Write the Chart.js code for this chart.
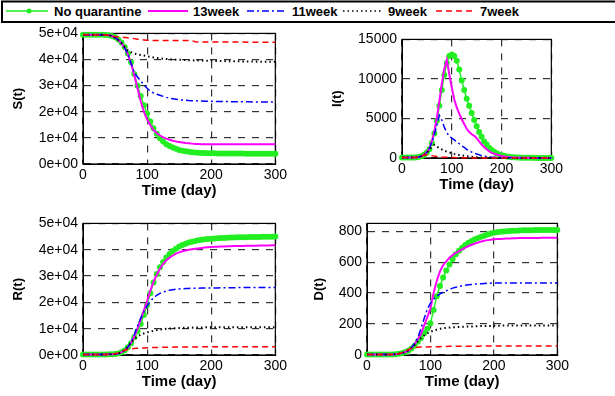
<!DOCTYPE html>
<html lang="en">
<head>
<meta charset="UTF-8">
<title>Quarantine scenarios</title>
<script src="https://cdn.jsdelivr.net/npm/chart.js@4.4.0/dist/chart.umd.min.js"></script>
<style>
  body { margin: 0; width: 615px; height: 396px; background: #fff; position: relative; overflow: hidden; font-family: Arial, "Liberation Sans", sans-serif; }
  canvas { position: absolute; }
  #legend { position: absolute; left: 0; top: 0; }
</style>
</head>
<body>
<svg id="legend" width="615" height="26" xmlns="http://www.w3.org/2000/svg" font-family="Arial, 'Liberation Sans', sans-serif" font-size="13" font-weight="bold">
  <rect x="2" y="1.5" width="640" height="20.5" fill="#fff" stroke="#000" stroke-width="2"/>
  <line x1="6" y1="11" x2="48" y2="11" stroke="#22ee22" stroke-width="1.5"/>
  <circle cx="29" cy="11" r="2.5" fill="#22ee22"/>
  <text x="54" y="16">No quarantine</text>
  <line x1="148" y1="11" x2="188" y2="11" stroke="#ff00ff" stroke-width="2"/>
  <text x="193" y="16">13week</text>
  <line x1="247" y1="11" x2="286" y2="11" stroke="#0000ff" stroke-width="1.5" stroke-dasharray="7 3 2 3"/>
  <text x="292" y="16">11week</text>
  <line x1="343" y1="11" x2="381" y2="11" stroke="#000" stroke-width="1.5" stroke-dasharray="1.5 3"/>
  <text x="388" y="16">9week</text>
  <line x1="436" y1="11" x2="473" y2="11" stroke="#ff0000" stroke-width="1.5" stroke-dasharray="6 4"/>
  <text x="480" y="16">7week</text>
</svg>
<canvas id="cS"></canvas>
<canvas id="cI"></canvas>
<canvas id="cR"></canvas>
<canvas id="cD"></canvas>

<script>
// time axis (days)
const days = [
  0,5,10,15,20,25,30,35,40,45,
  50,55,60,65,70,75,80,85,90,95,
  100,105,110,115,120,125,130,135,140,145,
  150,155,160,165,170,175,180,185,190,195,
  200,205,210,215,220,225,230,235,240,245,
  250,255,260,265,270,275,280,285,290,295,
  300];

// S(t)
const sNoQ = [
  49500,49500,49500,49500,49500,49500,49450,49400,49300,49000,
  48500,47700,46500,44800,42300,39000,34500,30000,26000,22500,
  19300,16300,13700,11600,9900,8600,7600,6900,6300,5800,
  5400,5100,4850,4650,4500,4400,4300,4250,4200,4150,
  4100,4100,4050,4050,4050,4000,4000,4000,4000,4000,
  4000,3950,3950,3950,3950,3950,3900,3900,3900,3900,
  3900];
const s13 = [
  49500,49500,49500,49500,49500,49500,49450,49400,49300,49000,
  48400,47500,46300,44500,42000,38500,34000,29000,24000,20000,
  17000,14800,13000,11900,10900,10200,9700,9300,8900,8600,
  8400,8200,8000,7900,7800,7700,7650,7600,7600,7550,
  7550,7550,7550,7550,7550,7550,7550,7550,7550,7550,
  7550,7550,7550,7550,7550,7550,7550,7550,7550,7550,
  7550];
const s11 = [
  49500,49500,49500,49500,49500,49500,49450,49400,49300,49000,
  48400,47500,46300,44500,42000,38500,35000,33300,31800,30300,
  29000,27900,27200,26700,26300,25900,25500,25200,25000,24800,
  24600,24500,24400,24300,24250,24200,24150,24100,24050,24000,
  24000,23950,23950,23900,23900,23900,23850,23850,23850,23800,
  23800,23800,23800,23750,23750,23750,23750,23700,23700,23700,
  23700];
const s9 = [
  49500,49500,49500,49500,49500,49500,49450,49400,49300,49000,
  48400,47500,46300,44800,43500,42800,42300,42000,41700,41500,
  41300,41000,40800,40600,40450,40300,40200,40100,40000,39950,
  39900,39850,39800,39750,39700,39650,39600,39600,39550,39500,
  39500,39450,39450,39400,39400,39350,39350,39300,39300,39300,
  39250,39250,39200,39200,39200,39150,39150,39150,39100,39100,
  39100];
const s7 = [
  49500,49500,49500,49500,49500,49500,49450,49400,49300,49000,
  48800,48700,48600,48450,48300,48150,48000,47800,47600,47500,
  47400,47350,47300,47300,47300,47300,47300,47300,47300,47300,
  47300,47300,47300,47300,47200,46800,46700,46700,46700,46700,
  46700,46700,46700,46700,46700,46700,46700,46700,46700,46700,
  46700,46650,46650,46650,46650,46650,46650,46650,46650,46650,
  46650];

// I(t)
const iNoQ = [
  50,50,50,50,50,50,100,150,250,450,
  700,1100,1900,3100,4700,6600,8600,10500,12000,12900,
  13100,12900,12300,11200,9800,8600,7500,6600,5700,4800,
  4000,3300,2700,2100,1700,1300,1000,800,600,450,
  350,270,200,150,110,80,60,50,40,30,
  30,20,20,20,10,10,10,10,10,10,
  10];
const i13 = [
  50,50,50,50,50,50,100,150,250,450,
  750,1200,2100,3400,5100,7200,9400,11300,12400,10600,
  8900,7400,6400,5600,4900,4300,3700,3300,3000,2800,
  2500,2100,1700,1400,1100,850,650,550,450,350,
  250,200,150,110,80,60,50,40,30,20,
  20,20,10,10,10,10,10,10,10,10,
  10];
const i11 = [
  50,50,50,50,50,50,100,150,250,450,
  750,1200,2000,3000,4100,5400,4800,3900,3200,2800,
  2500,2300,2050,1800,1550,1350,1100,900,750,600,
  500,400,300,250,200,150,100,80,60,50,
  40,30,30,20,20,20,10,10,10,10,
  10,10,10,10,10,10,10,10,10,10,
  10];
const i9 = [
  50,50,50,50,50,50,100,150,250,420,
  650,1000,1450,1650,1450,1250,1080,930,800,700,
  600,520,450,380,320,270,220,180,150,120,
  100,80,60,50,40,30,20,20,20,10,
  10,10,10,10,10,10,10,10,10,10,
  10,10,10,10,10,10,10,10,10,10,
  10];
const i7 = [
  50,50,50,50,50,50,100,150,250,380,
  420,380,300,240,200,160,130,110,90,75,
  60,50,40,35,30,25,20,20,20,15,
  15,10,10,10,10,10,10,10,10,10,
  10,10,10,10,10,10,10,10,10,10,
  10,10,10,10,10,10,10,10,10,10,
  10];

// R(t)
const rNoQ = [
  200,200,200,200,200,200,200,200,250,300,
  400,600,1000,1700,2900,4500,6700,9000,11800,15200,
  19000,23500,27500,30800,33300,35300,37000,38400,39500,40400,
  41200,41800,42300,42700,43000,43300,43600,43800,44000,44100,
  44200,44300,44400,44450,44500,44550,44600,44650,44700,44700,
  44750,44750,44800,44800,44850,44850,44900,44900,44950,44950,
  45000];
const r13 = [
  200,200,200,200,200,200,200,200,250,300,
  400,600,1000,1700,2900,4600,7000,10000,13500,17000,
  20500,24500,27800,30500,32800,34600,36000,37000,37800,38500,
  39000,39400,39700,39950,40150,40350,40500,40650,40800,40900,
  41000,41100,41150,41200,41250,41300,41350,41400,41400,41450,
  41450,41500,41500,41550,41550,41600,41600,41650,41650,41700,
  41700];
const r11 = [
  200,200,200,200,200,200,200,200,250,300,
  400,600,1000,1700,3000,5000,7800,11000,14000,16500,
  18700,20400,21700,22700,23400,23900,24300,24600,24800,25000,
  25100,25200,25250,25300,25350,25400,25400,25450,25450,25500,
  25500,25500,25500,25550,25550,25550,25550,25550,25600,25600,
  25600,25600,25600,25600,25600,25600,25600,25600,25600,25600,
  25600];
const r9 = [
  200,200,200,200,200,200,200,200,250,300,
  400,600,1000,1900,3200,4700,6000,7000,7700,8200,
  8600,8900,9200,9450,9650,9800,9950,10050,10150,10200,
  10250,10300,10350,10400,10400,10450,10450,10450,10500,10500,
  10500,10500,10500,10500,10500,10500,10500,10500,10500,10500,
  10500,10500,10500,10500,10500,10500,10500,10500,10500,10500,
  10500];
const r7 = [
  200,200,200,200,200,200,200,200,250,300,
  450,800,1300,1800,2100,2300,2450,2550,2650,2700,
  2750,2800,2850,2880,2900,2920,2940,2960,2980,3000,
  3000,3020,3040,3050,3060,3070,3080,3090,3100,3100,
  3120,3120,3120,3120,3120,3120,3120,3120,3120,3120,
  3150,3150,3150,3150,3150,3150,3150,3150,3150,3150,
  3150];

// D(t)
const dNoQ = [
  3,3,3,3,3,3,3,4,4,5,
  8,12,18,28,42,60,85,110,140,170,
  205,290,380,445,500,545,585,620,650,673,
  693,710,725,737,747,756,764,771,778,784,
  789,793,796,798,800,801,802,803,804,805,
  805,806,806,807,807,807,808,808,808,808,
  808];
const d13 = [
  3,3,3,3,3,3,3,4,4,5,
  8,12,18,28,45,70,100,135,190,245,
  300,400,480,540,580,605,628,645,660,670,
  683,694,704,712,720,727,733,738,742,745,
  747,749,750,751,752,753,754,754,755,755,
  755,756,756,756,756,757,757,757,757,757,
  757];
const d11 = [
  3,3,3,3,3,3,3,4,4,5,
  8,12,18,28,45,75,110,170,235,295,
  335,360,380,395,405,415,425,432,438,443,
  447,451,454,456,458,459,461,462,463,464,
  465,465,465,465,465,465,465,465,465,465,
  465,465,465,465,465,465,465,465,465,465,
  465];
const d9 = [
  3,3,3,3,3,3,3,4,4,5,
  8,12,20,30,45,65,88,108,126,140,
  150,158,164,169,173,175,177,179,180,181,
  182,183,184,184,185,186,187,187,188,188,
  189,189,189,190,190,190,190,190,190,191,
  191,191,191,191,191,191,191,191,191,191,
  191];
const d7 = [
  3,3,3,3,3,3,3,4,4,5,
  8,14,25,35,43,48,50,51,52,52,
  53,53,54,54,55,55,56,56,56,57,
  57,57,57,57,57,57,58,58,58,58,
  58,58,58,58,58,58,58,58,58,58,
  58,58,58,58,58,58,58,58,58,58,
  58];

const xTicks = [0, 100, 200, 300];

// line styles, drawn back to front (green at the bottom)
const styles = [
  { label: 'No quarantine', color: '#22ee22', dash: [], width: 1.5, radius: 3 },
  { label: '13week', color: '#ff00ff', dash: [], width: 2, radius: 0 },
  { label: '11week', color: '#0000ff', dash: [7, 3, 2, 3], width: 1.5, radius: 0 },
  { label: '9week', color: '#000000', dash: [1.5, 3], width: 2, radius: 0 },
  { label: '7week', color: '#ff0000', dash: [6, 4], width: 1.5, radius: 0 }
];

function sci(v) {
  if (v === 0) return '0e+00';
  const e = Math.floor(Math.log10(v));
  const m = Math.round(v / Math.pow(10, e));
  return m + 'e+' + String(e).padStart(2, '0');
}
function plain(v) { return String(v); }

// canvas box and plot rectangle for each panel
const panels = [
  { id: 'cS', left: 0, top: 20, w: 290, h: 180, plot: [83, 33, 279, 164], titleX: 18,
    title: 'S(t)', max: 50000, step: 10000, fmt: sci, series: [sNoQ, s13, s11, s9, s7] },
  { id: 'cI', left: 310, top: 26, w: 256, h: 168, plot: [402, 39, 556, 158], titleX: 27,
    title: 'I(t)', max: 15000, step: 5000, fmt: plain, series: [iNoQ, i13, i11, i9, i7] },
  { id: 'cR', left: 0, top: 210, w: 290, h: 181, plot: [83, 223, 279, 355], titleX: 18,
    title: 'R(t)', max: 50000, step: 10000, fmt: sci, series: [rNoQ, r13, r11, r9, r7] },
  { id: 'cD', left: 310, top: 210, w: 262, h: 181, plot: [367, 223, 562, 355], titleX: 9.5,
    title: 'D(t)', max: 850, step: 200, fmt: plain, series: [dNoQ, d13, d11, d9, d7] }
];

const boxPlugin = {
  id: 'box',
  beforeDatasetsDraw(chart) {
    const { ctx, chartArea: a } = chart;
    ctx.save();
    ctx.strokeStyle = '#000';
    ctx.lineWidth = 1.2;
    ctx.setLineDash([]);
    ctx.strokeRect(a.left, a.top, a.right - a.left, a.bottom - a.top);
    ctx.restore();
  }
};

const font = "Arial, 'Liberation Sans', sans-serif";

panels.forEach(p => {
  const cv = document.getElementById(p.id);
  cv.width = p.w; cv.height = p.h;
  cv.style.left = p.left + 'px'; cv.style.top = p.top + 'px';
  const [pl, pt, pr, pb] = p.plot;

  const datasets = styles.map((st, k) => ({
    label: st.label,
    data: days.map((d, j) => ({ x: d, y: p.series[k][j] })),
    borderColor: st.color,
    backgroundColor: st.color,
    borderWidth: st.width,
    borderDash: st.dash,
    pointRadius: st.radius,
    pointBorderWidth: 0,
    pointBackgroundColor: st.color,
    tension: 0,
    clip: false,
    order: 5 - k
  }));

  new Chart(cv, {
    type: 'line',
    data: { datasets },
    plugins: [boxPlugin],
    options: {
      responsive: false,
      animation: false,
      devicePixelRatio: 1,
      layout: { padding: { left: 0, top: pt - p.top, right: p.left + p.w - pr, bottom: 0 } },
      plugins: { legend: { display: false }, tooltip: { enabled: false } },
      scales: {
        x: {
          type: 'linear', min: 0, max: 300,
          afterBuildTicks: s => { s.ticks = xTicks.map(v => ({ value: v })); },
          ticks: { color: '#000', font: { family: font, size: 14 }, padding: 3, maxRotation: 0 },
          grid: { color: '#333', lineWidth: 1.2, drawTicks: false },
          border: { display: true, color: '#000', dash: [7, 7] },
          title: { display: true, text: 'Time (day)', color: '#000',
                   font: { family: font, size: 15, weight: 'bold' }, padding: { top: 0, bottom: 0 } },
          afterFit: s => { s.height = p.top + p.h - pb; }
        },
        y: {
          type: 'linear', min: 0, max: p.max,
          ticks: { stepSize: p.step, includeBounds: false, callback: p.fmt, color: '#000',
                   font: { family: font, size: 14 }, padding: 5 },
          grid: { color: '#333', lineWidth: 1.2, drawTicks: false },
          border: { display: true, color: '#000', dash: [7, 7] },
          title: { display: true, text: p.title, color: '#000',
                   font: { family: font, size: 13, weight: 'bold' }, padding: { top: p.titleX - 7.8, bottom: 0 } },
          afterFit: s => { s.width = pl - p.left; }
        }
      }
    }
  });
});
</script>
</body>
</html>
